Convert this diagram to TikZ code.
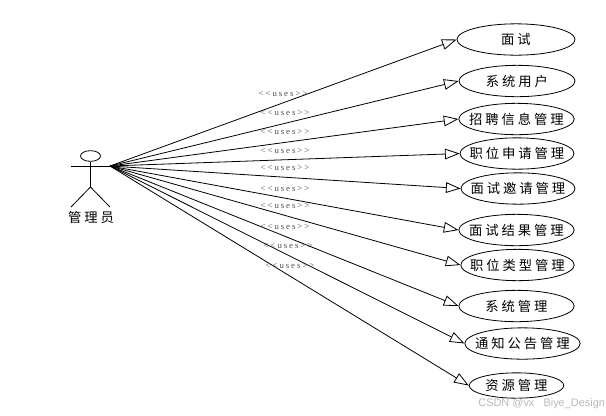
\documentclass[tikz,border=0pt]{standalone}
\usepackage{fontspec}
\usetikzlibrary{arrows.meta,shapes.geometric}
\setmainfont{Liberation Serif}
\newfontfamily\cjk[LetterSpace=22]{Noto Sans CJK SC}
\newfontfamily\stereofont[LetterSpace=22]{Liberation Serif}
\newfontfamily\markfont{Liberation Sans}
\newcommand{\uctext}[1]{\makebox[0pt]{#1}}

\tikzset{every picture/.style={line width=0.6pt},
  usecase/.style={draw,ellipse,fill=white,inner sep=0pt,minimum height=23.5pt,font=\cjk\fontsize{10}{10}\selectfont},
  uses/.style={-{Triangle[open,length=11pt,width=8pt]}},
  stereo/.style={inner sep=0pt,text=black!70,font=\stereofont\fontsize{6.6}{7}\selectfont}}

\begin{document}
\begin{tikzpicture}[x=0.75pt,y=0.75pt,yscale=-1,xscale=1]
\useasboundingbox (0,0) rectangle (606,415);

%Actor
\node[draw,ellipse,inner sep=0pt,minimum width=15pt,minimum height=8pt] (head) at (90.5,156) {};
\coordinate (armL) at (71,166);
\coordinate (armR) at (110,166);
\coordinate (hip) at (90.5,187);
\coordinate (footL) at (71,207);
\coordinate (footR) at (110,207);
\draw (head) -- (hip);
\draw (armL) -- (armR);
\draw (footL) -- (hip) -- (footR);
\node[inner sep=0pt,font=\cjk\fontsize{10}{10}\selectfont] (admin) at (91,217) {管理员};

%Use cases
\node[usecase,minimum width=88.5pt] (uc1) at (516,39.5) {\uctext{面试}};
\node[usecase,minimum width=87pt] (uc2) at (517,81) {\uctext{系统用户}};
\node[usecase,minimum width=86.5pt] (uc3) at (516.5,119) {\uctext{招聘信息管理}};
\node[usecase,minimum width=85.5pt] (uc4) at (517,153.5) {\uctext{职位申请管理}};
\node[usecase,minimum width=85.5pt] (uc5) at (518,188.5) {\uctext{面试邀请管理}};
\node[usecase,minimum width=86.5pt] (uc6) at (516.5,230) {\uctext{面试结果管理}};
\node[usecase,minimum width=85pt] (uc7) at (517.5,265) {\uctext{职位类型管理}};
\node[usecase,minimum width=86.5pt] (uc8) at (516.5,306) {\uctext{系统管理}};
\node[usecase,minimum width=86.5pt] (uc9) at (522.5,343.5) {\uctext{通知公告管理}};
\node[usecase,minimum width=71pt,minimum height=19pt] (uc10) at (516.5,385.5) {\uctext{资源管理}};

%Straight Lines
\draw[uses] (armR) -- (uc1.west);
\draw[uses] (armR) -- (uc2.west);
\draw[uses] (armR) -- (uc3.west);
\draw[uses] (armR) -- (uc4.west);
\draw[uses] (armR) -- (uc5.west);
\draw[uses] (armR) -- (uc6.west);
\draw[uses] (armR) -- (uc7.west);
\draw[uses] (armR) -- (uc8.west);
\draw[uses] (armR) -- (uc9.west);
\draw[uses] (armR) -- (uc10.west);

%Stereotypes
\node[stereo] (st1) at (283,94) {<{}<uses>{}>};
\node[stereo] (st2) at (285,113.5) {<{}<uses>{}>};
\node[stereo] (st3) at (285,132.5) {<{}<uses>{}>};
\node[stereo] (st4) at (285,151) {<{}<uses>{}>};
\node[stereo] (st5) at (285,168) {<{}<uses>{}>};
\node[stereo] (st6) at (285,189) {<{}<uses>{}>};
\node[stereo] (st7) at (285,206) {<{}<uses>{}>};
\node[stereo] (st8) at (285,227) {<{}<uses>{}>};
\node[stereo] (st9) at (288,246) {<{}<uses>{}>};
\node[stereo] (st10) at (290,266) {<{}<uses>{}>};

%Watermark
\node[anchor=west,inner sep=0pt,text=black!28,font=\markfont\fontsize{8.2}{9}\selectfont] (mark) at (478,404) {CSDN @vx\ \ \ Biye\_Design};

\end{tikzpicture}
\end{document}
